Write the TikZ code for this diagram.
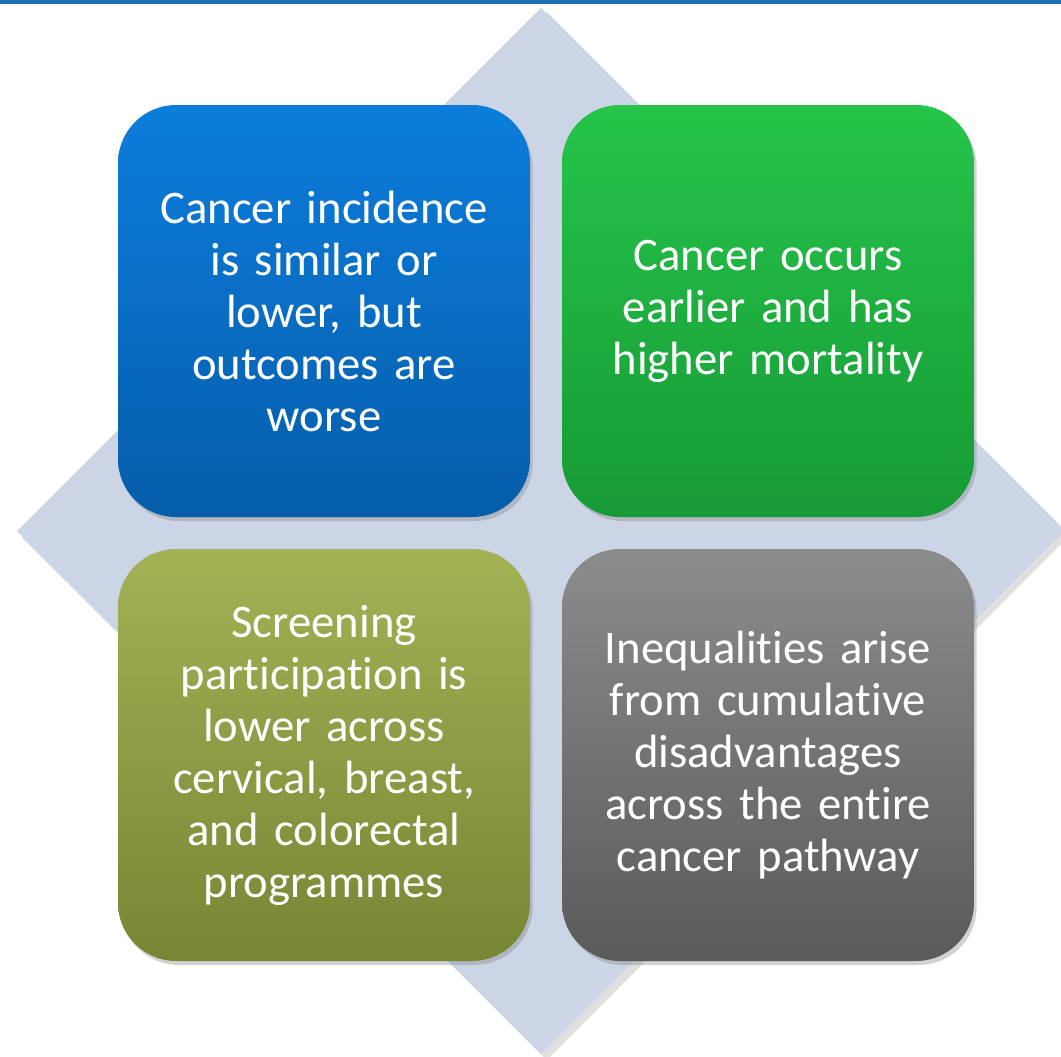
\documentclass[tikz,border=0pt]{standalone}
\usepackage{fontspec}
\setmainfont{Carlito}[RawFeature={-liga;-clig;-calt;-dlig},WordSpace=0.85]
\usetikzlibrary{shadows,calc}
\definecolor{topbar}{HTML}{1F6FB0}
\definecolor{diam}{HTML}{CBD5E6}
\definecolor{bluetop}{HTML}{0C7DDC}
\definecolor{bluebot}{HTML}{055DAA}
\definecolor{greentop}{HTML}{26C44A}
\definecolor{greenbot}{HTML}{179A36}
\definecolor{olivetop}{HTML}{A3B255}
\definecolor{olivebot}{HTML}{768634}
\definecolor{graytop}{HTML}{8C8C8C}
\definecolor{graybot}{HTML}{5A5A5A}
\tikzset{
  quad/.style={rounded corners=58*0.75pt, minimum width=412*0.75pt, minimum height=412*0.75pt,
    text width=390*0.75pt, align=center, text=white, inner sep=0pt,
    font=\fontsize{35}{39}\selectfont,
    drop shadow={shadow xshift=2pt, shadow yshift=-3pt, opacity=0.35}},
}
\begin{document}
\begin{tikzpicture}[x=0.75pt,y=-0.75pt]
\useasboundingbox (0,0) rectangle (1061,1057);
\fill[white] (0,0) rectangle (1061,1057);
\fill[topbar] (0,0) rectangle (1061,3.5);
% diamond
\fill[black, opacity=0.12] (547,12) -- (1070,535) -- (547,1060) -- (22,538) -- cycle;
\fill[diam] (541,8) -- (1064,531) -- (541,1054) -- (17,531) -- cycle;
\node[quad, top color=bluetop, bottom color=bluebot] (a) at (324,311)
  {Cancer incidence\\is similar or\\lower, but\\outcomes are\\worse};
\node[quad, top color=greentop, bottom color=greenbot] (b) at (768,311)
  {Cancer occurs\\earlier and has\\higher mortality};
\node[quad, top color=olivetop, bottom color=olivebot] (c) at (324,755)
  {Screening\\participation is\\lower across\\cervical, breast,\\and colorectal\\programmes};
\node[quad, top color=graytop, bottom color=graybot] (d) at (768,755)
  {Inequalities arise\\from cumulative\\disadvantages\\across the entire\\cancer pathway};
\end{tikzpicture}
\end{document}
